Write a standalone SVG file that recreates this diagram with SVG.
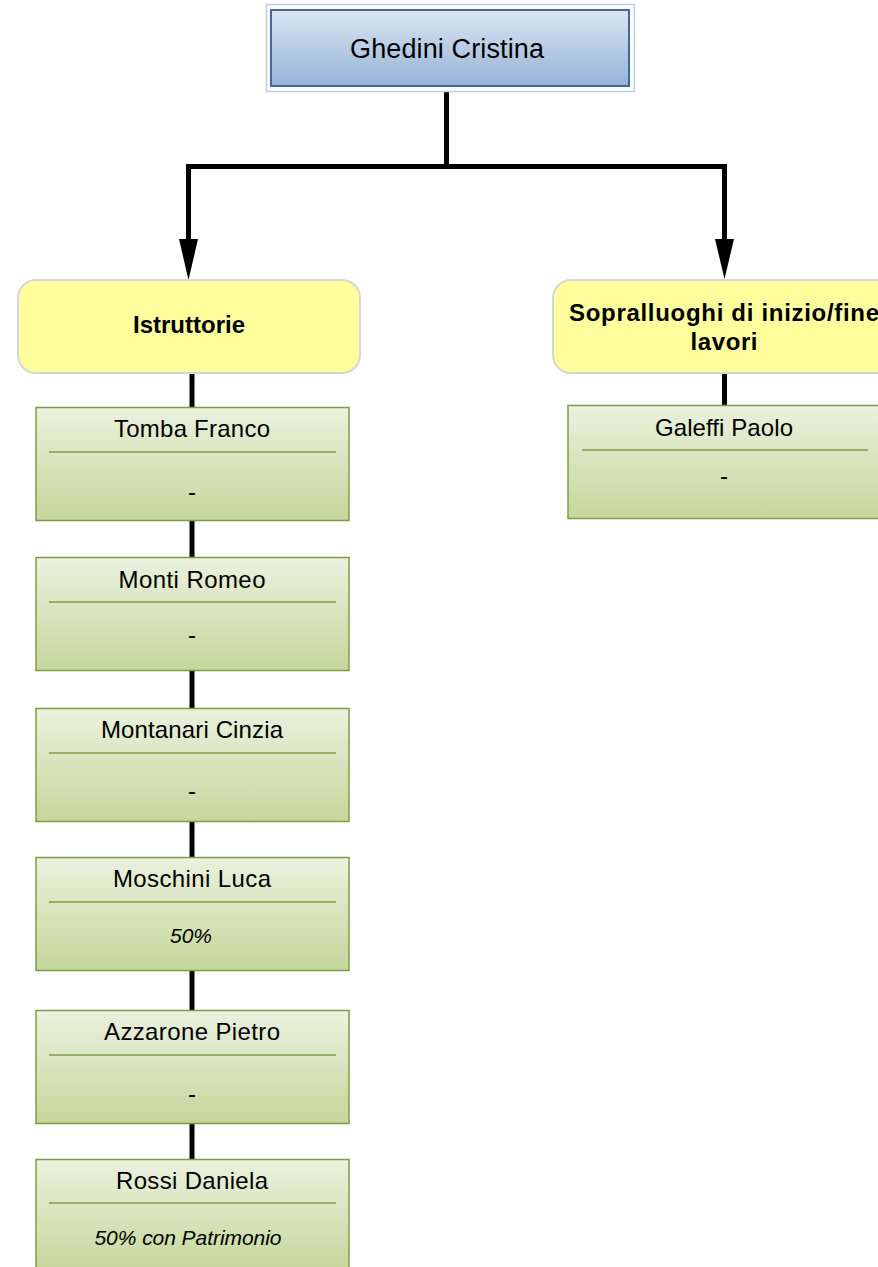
<svg xmlns="http://www.w3.org/2000/svg" width="878" height="1267" viewBox="0 0 878 1267">
<style>
text{font-family:"Liberation Sans",Arial,sans-serif;fill:#000;text-anchor:middle}
.root{font-size:27px}
.grp{font-size:24px;font-weight:bold}
.nm{font-size:24px}
.dash{font-size:24px}
.it{font-size:21px;font-style:italic}
.gbox{fill:url(#gGreen);stroke:#7f9c45;stroke-width:1.5}
.div{stroke:#7f9c45;stroke-width:1.5}
.ybox{fill:#ffff9e;stroke:#d6d6d6;stroke-width:2}
.conn{stroke:#000;stroke-width:5;fill:none}
</style>
<defs>
<linearGradient id="gGreen" x1="0" y1="0" x2="0" y2="1">
<stop offset="0" stop-color="#ebf1de"/>
<stop offset="1" stop-color="#c4d79b"/>
</linearGradient>
<linearGradient id="gBlue" x1="0" y1="0" x2="0" y2="1">
<stop offset="0" stop-color="#dce6f2"/>
<stop offset="1" stop-color="#95b3d7"/>
</linearGradient>
</defs>
<rect width="878" height="1267" fill="#fff"/>
<g id="connectors">
<path class="conn" d="M446.5 91 V166.5 M188.5 166.5 H724.5 M188.5 164 V242 M724.5 164 V242"/>
<polygon points="179,239 198,239 188.5,280"/>
<polygon points="715,239 734,239 724.5,279"/>
<path class="conn" d="M192 373 V408 M192 520 V558 M192 670 V709 M192 821 V858 M192 971 V1011 M192 1123 V1160 M724.5 373 V406"/>
</g>
<g id="root">
<rect x="266.5" y="4.5" width="368" height="87" fill="#fff" stroke="#b9cde5" stroke-width="1.5"/>
<rect x="271" y="10" width="358" height="76" fill="url(#gBlue)" stroke="#43669b" stroke-width="2"/>
<text class="root" x="447" y="58" textLength="194" lengthAdjust="spacing">Ghedini Cristina</text>
</g>
<g id="istruttorie">
<rect class="ybox" x="18" y="280" width="342" height="93" rx="18"/>
<text class="grp" x="189" y="333" textLength="112" lengthAdjust="spacing">Istruttorie</text>
</g>
<g id="sopralluoghi">
<rect class="ybox" x="553" y="280" width="345" height="93" rx="18"/>
<text class="grp" x="724" y="321" textLength="310" lengthAdjust="spacing">Sopralluoghi di inizio/fine</text>
<text class="grp" x="724" y="350" textLength="67" lengthAdjust="spacing">lavori</text>
</g>
<g id="tomba">
<rect class="gbox" x="36" y="407.5" width="313" height="113"/>
<text class="nm" x="192" y="437" textLength="156" lengthAdjust="spacing">Tomba Franco</text>
<line class="div" x1="49" y1="452" x2="336" y2="452"/>
<text class="dash" x="192" y="500">-</text>
</g>
<g id="monti">
<rect class="gbox" x="36" y="557.5" width="313" height="113"/>
<text class="nm" x="192" y="588" textLength="147" lengthAdjust="spacing">Monti Romeo</text>
<line class="div" x1="49" y1="602" x2="336" y2="602"/>
<text class="dash" x="192" y="643">-</text>
</g>
<g id="montanari">
<rect class="gbox" x="36" y="708.5" width="313" height="113"/>
<text class="nm" x="192" y="738" textLength="182" lengthAdjust="spacing">Montanari Cinzia</text>
<line class="div" x1="49" y1="753" x2="336" y2="753"/>
<text class="dash" x="192" y="799">-</text>
</g>
<g id="moschini">
<rect class="gbox" x="36" y="857.5" width="313" height="113"/>
<text class="nm" x="192" y="887" textLength="158" lengthAdjust="spacing">Moschini Luca</text>
<line class="div" x1="49" y1="902" x2="336" y2="902"/>
<text class="it" x="191" y="943" textLength="42" lengthAdjust="spacing">50%</text>
</g>
<g id="azzarone">
<rect class="gbox" x="36" y="1010.5" width="313" height="113"/>
<text class="nm" x="192" y="1040" textLength="176" lengthAdjust="spacing">Azzarone Pietro</text>
<line class="div" x1="49" y1="1055" x2="336" y2="1055"/>
<text class="dash" x="192" y="1102">-</text>
</g>
<g id="rossi">
<rect class="gbox" x="36" y="1159.5" width="313" height="113"/>
<text class="nm" x="192" y="1189" textLength="152" lengthAdjust="spacing">Rossi Daniela</text>
<line class="div" x1="49" y1="1203" x2="336" y2="1203"/>
<text class="it" x="188" y="1245" textLength="187" lengthAdjust="spacing">50% con Patrimonio</text>
</g>
<g id="galeffi">
<rect class="gbox" x="568" y="405.5" width="313" height="113"/>
<text class="nm" x="724" y="436" textLength="138" lengthAdjust="spacing">Galeffi Paolo</text>
<line class="div" x1="582" y1="450" x2="868" y2="450"/>
<text class="dash" x="724" y="484">-</text>
</g>
</svg>
